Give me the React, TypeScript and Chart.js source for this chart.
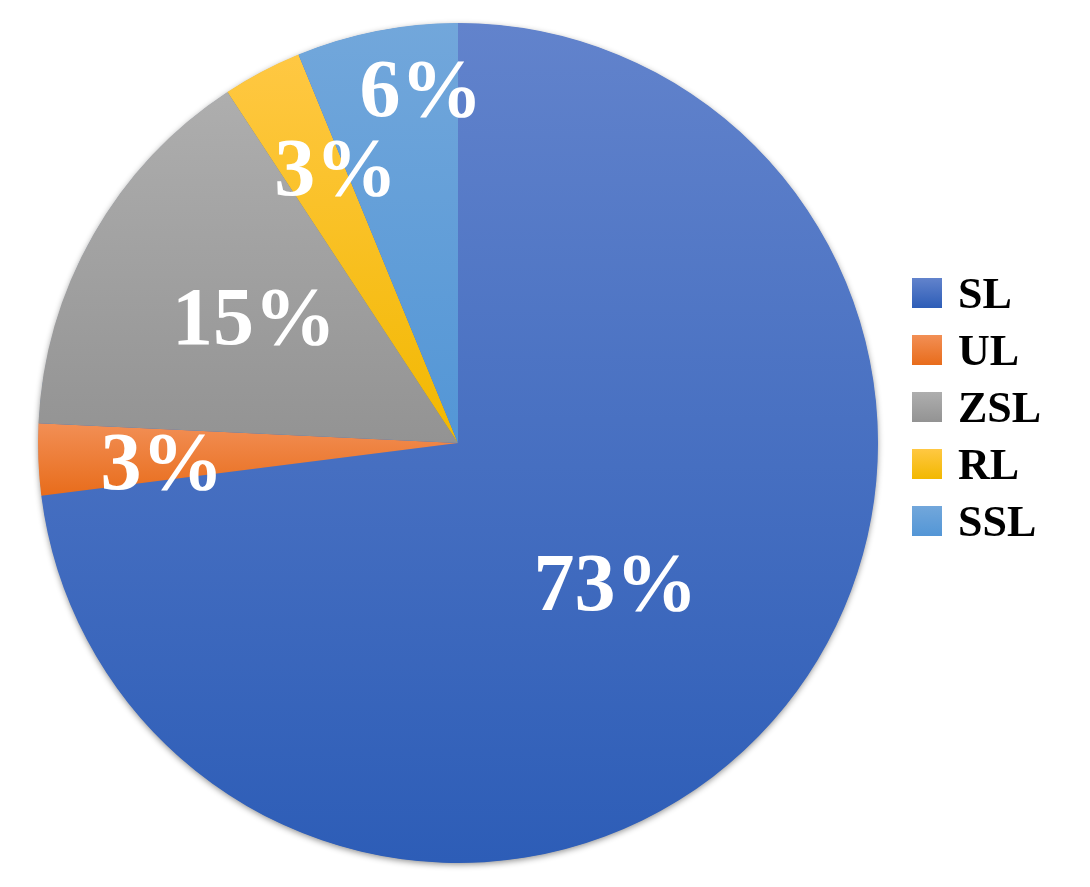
import React, { useEffect, useRef } from "react";
import { Chart, registerables } from "chart.js";

Chart.register(...registerables);

const categories = ["SL", "UL", "ZSL", "RL", "SSL"];
const shares = [73.0, 2.75, 15.0, 3.05, 6.2];
const colorTop = ["#6283CC", "#F28F55", "#AEAEAE", "#FFC843", "#72A7DB"];
const colorBottom = ["#2D5DB7", "#E86C1B", "#939393", "#F2B800", "#5396D6"];
const labelRadius = [0.5, 0.706, 0.572, 0.719, 0.85];
const labelAngleFrac = [0.5, 0.37, 0.54, 0.86, 0.733];

const serif = "'Liberation Serif', 'Times New Roman', serif";

function sliceGradient(ctx: CanvasRenderingContext2D, arc: any, i: number) {
  const { x, y, startAngle, endAngle, outerRadius } = arc;
  const ys = [y, y + outerRadius * Math.sin(startAngle), y + outerRadius * Math.sin(endAngle)];
  const within = (a: number) => {
    let t = a;
    while (t < startAngle) t += Math.PI * 2;
    return t <= endAngle;
  };
  if (within(-Math.PI / 2)) ys.push(y - outerRadius);
  if (within(Math.PI / 2)) ys.push(y + outerRadius);
  const y0 = Math.min(...ys);
  const y1 = Math.max(...ys);
  const g = ctx.createLinearGradient(0, y0, 0, y1 + 0.001);
  g.addColorStop(0, colorTop[i]);
  g.addColorStop(1, colorBottom[i]);
  return g;
}

const piePlugin = {
  id: "pieDecor",
  beforeDatasetsDraw(chart: any) {
    const ctx = chart.ctx as CanvasRenderingContext2D;
    const meta = chart.getDatasetMeta(0);
    const first = meta.data[0] as any;
    if (!first) return;
    ctx.save();
    ctx.shadowColor = "rgba(0,0,0,0.45)";
    ctx.shadowBlur = 6;
    ctx.shadowOffsetX = 0;
    ctx.shadowOffsetY = 2;
    ctx.beginPath();
    ctx.arc(first.x, first.y, first.outerRadius - 0.5, 0, Math.PI * 2);
    ctx.fillStyle = "#3A6BC4";
    ctx.fill();
    ctx.restore();
    meta.data.forEach((arc: any, i: number) => {
      arc.options.backgroundColor = sliceGradient(ctx, arc, i);
    });
  },
  afterDatasetsDraw(chart: any) {
    const ctx = chart.ctx as CanvasRenderingContext2D;
    const meta = chart.getDatasetMeta(0);
    const total = shares.reduce((a, b) => a + b, 0);
    ctx.save();
    ctx.fillStyle = "#FFFFFF";
    ctx.font = `bold 82px ${serif}`;
    ctx.textAlign = "center";
    ctx.textBaseline = "alphabetic";
    meta.data.forEach((arc: any, i: number) => {
      const ang = arc.startAngle + (arc.endAngle - arc.startAngle) * labelAngleFrac[i];
      const r = arc.outerRadius * labelRadius[i];
      const lx = arc.x + r * Math.cos(ang);
      const ly = arc.y + r * Math.sin(ang);
      const txt = Math.round((shares[i] / total) * 100) + "%";
      ctx.fillText(txt, lx, ly + 28);
    });
    // legend
    const lx = 912;
    const top = 278;
    const step = 57;
    ctx.textAlign = "left";
    ctx.font = `bold 44px ${serif}`;
    categories.forEach((c, i) => {
      const sy = top + i * step;
      const g = ctx.createLinearGradient(0, sy, 0, sy + 30);
      g.addColorStop(0, colorTop[i]);
      g.addColorStop(1, colorBottom[i]);
      ctx.fillStyle = g;
      ctx.fillRect(lx, sy, 30, 30);
      ctx.fillStyle = "#000000";
      ctx.fillText(c, lx + 46, sy + 30);
    });
    ctx.restore();
  },
};

export default function App() {
  const ref = useRef<HTMLCanvasElement | null>(null);
  useEffect(() => {
    document.body.style.margin = "0";
    const canvas = ref.current;
    if (!canvas) return;
    const chart = new Chart(canvas, {
      type: "pie",
      data: {
        labels: categories,
        datasets: [
          {
            data: shares,
            backgroundColor: colorBottom,
            borderWidth: 0,
          },
        ],
      },
      options: {
        responsive: false,
        animation: false,
        layout: { padding: { left: 38, top: 23, right: 212, bottom: 24 } },
        plugins: {
          legend: { display: false },
          tooltip: { enabled: false },
        },
      },
      plugins: [piePlugin],
    });
    return () => chart.destroy();
  }, []);
  return (
    <div style={{ width: 1090, height: 887, background: "#fff" }}>
      <canvas ref={ref} width={1090} height={887} style={{ display: "block" }} />
    </div>
  );
}
